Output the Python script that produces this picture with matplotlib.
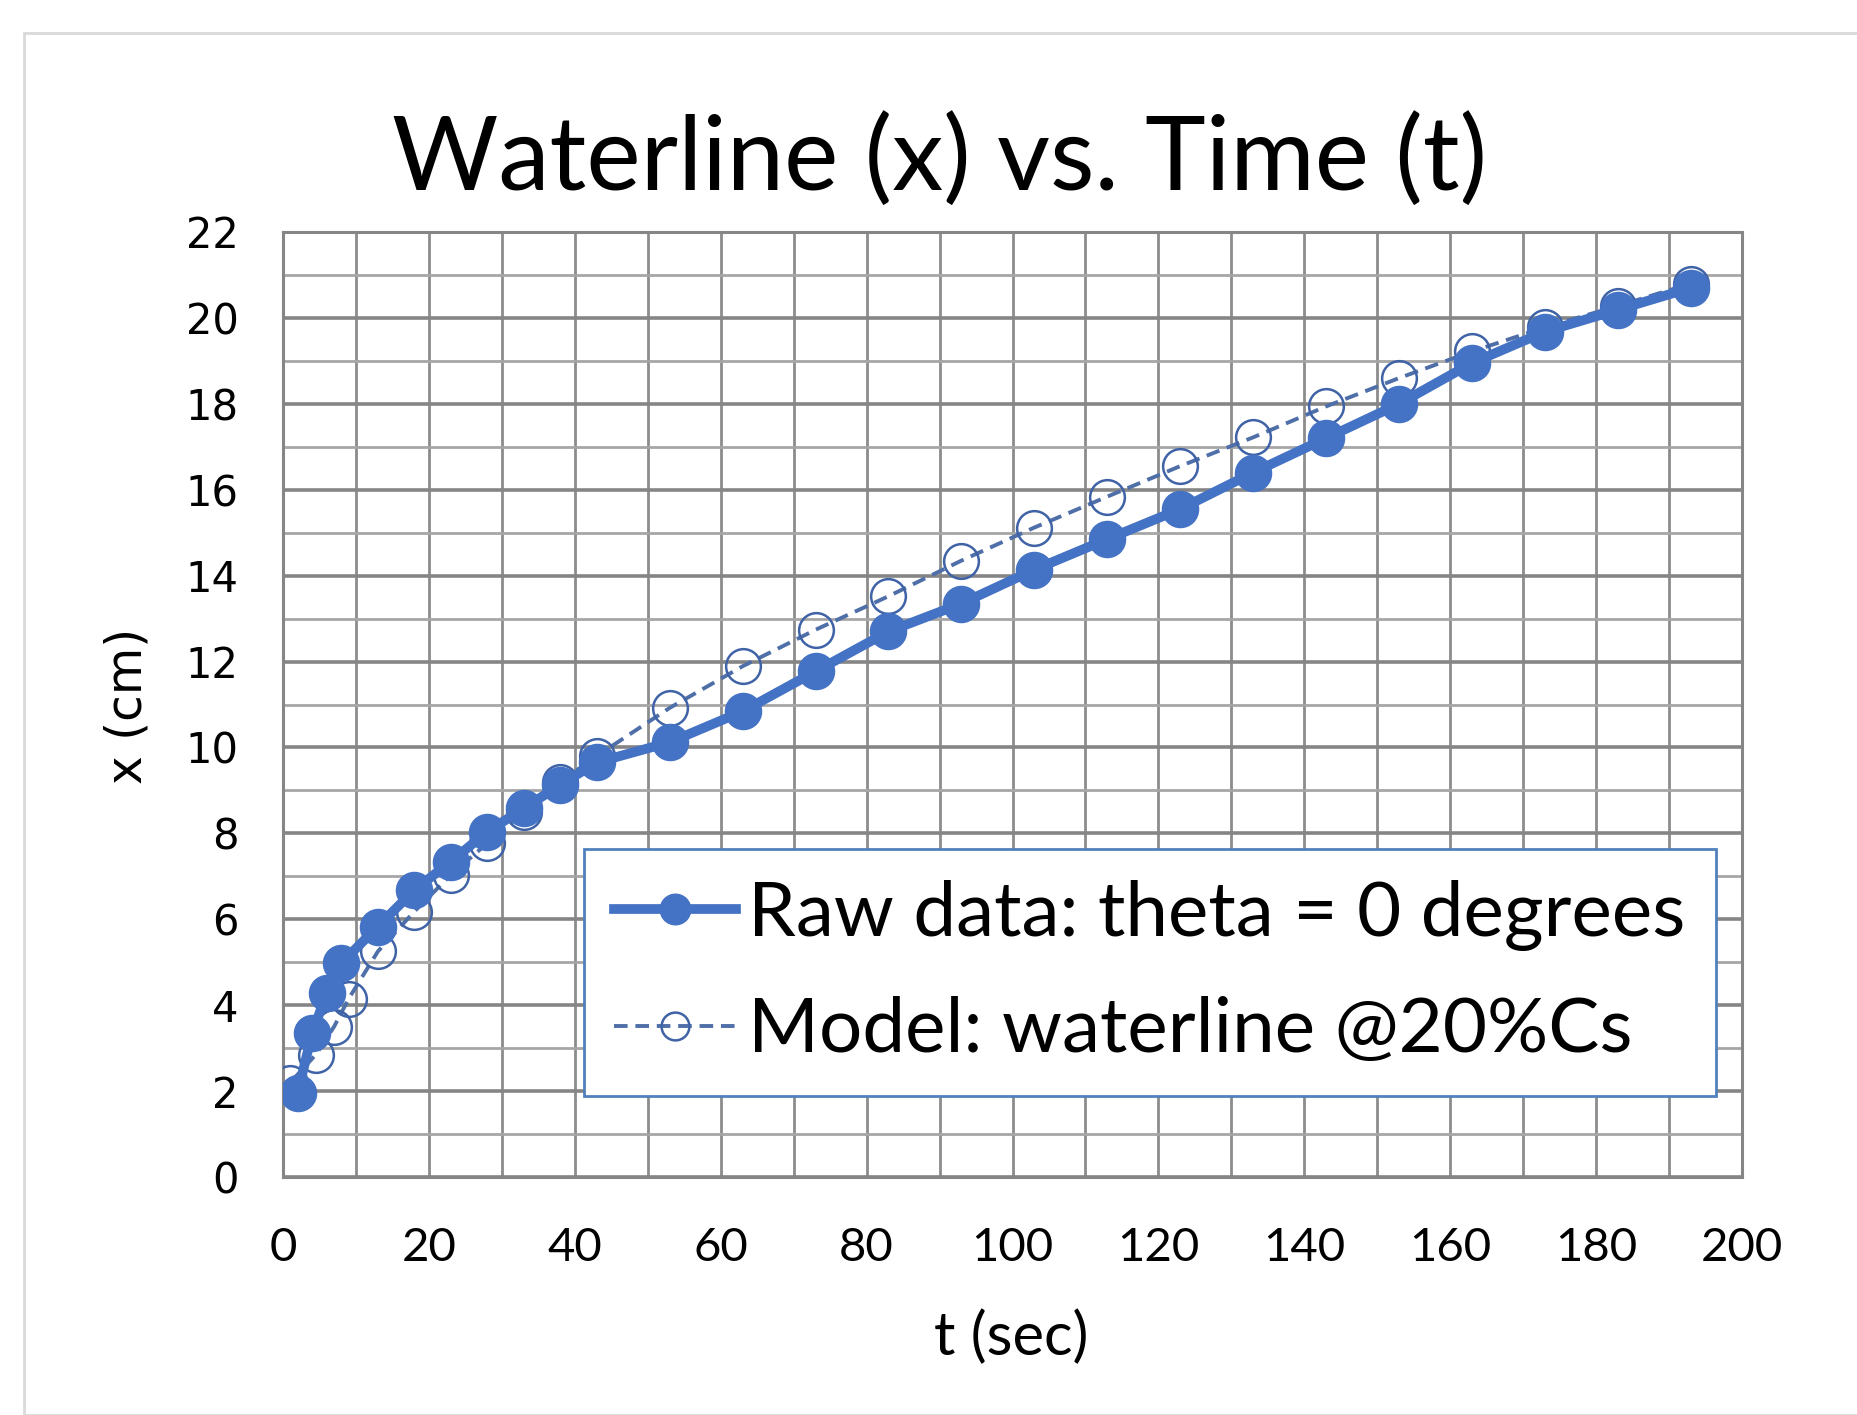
import numpy as np
import matplotlib.pyplot as plt
from matplotlib.patches import Rectangle
from matplotlib.ticker import MultipleLocator

# raw data (theta = 0)
t_raw = [2, 4, 6, 8, 13, 18, 23, 28, 33, 38, 43, 53, 63, 73, 83, 93, 103,
         113, 123, 133, 143, 153, 163, 173, 183, 193]
x_raw = [1.95, 3.35, 4.28, 4.98, 5.83, 6.68, 7.34, 8.04, 8.58, 9.13, 9.65,
         10.12, 10.84, 11.77, 12.70, 13.35, 14.14, 14.85, 15.55, 16.4, 17.2,
         18.0, 18.95, 19.68, 20.19, 20.7]

# model @20%Cs
t_mod = [1, 4.5, 7, 9, 13, 18, 23, 28, 33, 38, 43, 53, 63, 73, 83, 93, 103,
         113, 123, 133, 143, 153, 163, 173, 183, 193]
x_mod = [2.2, 2.85, 3.5, 4.15, 5.25, 6.18, 7.03, 7.77, 8.5, 9.2, 9.8, 10.92,
         11.89, 12.74, 13.52, 14.35, 15.12, 15.84, 16.55, 17.22, 17.94, 18.6,
         19.22, 19.78, 20.28, 20.8]

blue = '#4472C4'
narrow = ['Lato', 'DejaVu Sans']

fig = plt.figure(figsize=(18.58, 14.15), dpi=100)
fig.patches.append(Rectangle((24/1858, 0), 2, 1 - 33/1415, transform=fig.transFigure,
                             facecolor='none', edgecolor='#d9d9d9', lw=2))
ax = fig.add_axes([283/1858, 1 - 1177/1415, 1459/1858, 945/1415])

ax.plot(t_mod, x_mod, ls=(0, (3.5, 2)), color='#4f6fa8', lw=2.8, marker='o', ms=25,
        mfc='none', mec='#3f63a6', mew=1.8, zorder=3,
        label='Model: waterline @20%Cs')
ax.plot(t_raw, x_raw, '-', color=blue, lw=7, marker='o', ms=26, mfc=blue,
        mec=blue, zorder=4, label='Raw data: theta = 0 degrees')

ax.set_xlim(0, 200)
ax.set_ylim(0, 22)
ax.xaxis.set_major_locator(MultipleLocator(20))
ax.xaxis.set_minor_locator(MultipleLocator(10))
ax.yaxis.set_major_locator(MultipleLocator(2))
ax.yaxis.set_minor_locator(MultipleLocator(1))
ax.grid(which='major', axis='y', color='#858585', lw=2.6)
ax.grid(which='minor', axis='y', color='#a6a6a6', lw=2)
ax.grid(which='both', axis='x', color='#8c8c8c', lw=2)
ax.set_axisbelow(True)
for s in ax.spines.values():
    s.set_color('#868686')
    s.set_linewidth(2.2)
ax.tick_params(which='both', length=0)
ax.tick_params(axis='x', pad=36, labelsize=34)
ax.tick_params(axis='y', pad=32, labelsize=30)
for lab in ax.get_xticklabels():
    lab.set_family(narrow)

fig.text(940/1858, 1 - 160/1415, 'Waterline (x) vs. Time (t)', ha='center',
         va='center', fontsize=74, family=narrow)
fig.text(1011/1858, 1 - 1337/1415, 't (sec)', ha='center', va='center',
         fontsize=43, family=narrow)
fig.text(127/1858, 1 - 706/1415, 'x (cm)', ha='center', va='center',
         fontsize=35, rotation=90)

h, l = ax.get_legend_handles_labels()
leg = ax.legend(h[::-1], l[::-1], loc='lower left',
                bbox_to_anchor=(0.206, 0.0857), prop={'family': narrow, 'size': 55},
                frameon=True, fancybox=False, edgecolor='#4f81bd', framealpha=1,
                handlelength=1.6, handletextpad=0.15, borderpad=0.4,
                labelspacing=0.6, borderaxespad=0)
leg.get_frame().set_linewidth(2)
for line in leg.get_lines():
    if line.get_marker() == 'o' and line.get_markerfacecolor() == 'none':
        line.set_markersize(20)
    else:
        line.set_markersize(22)

fig.savefig('out.png', dpi=100)
